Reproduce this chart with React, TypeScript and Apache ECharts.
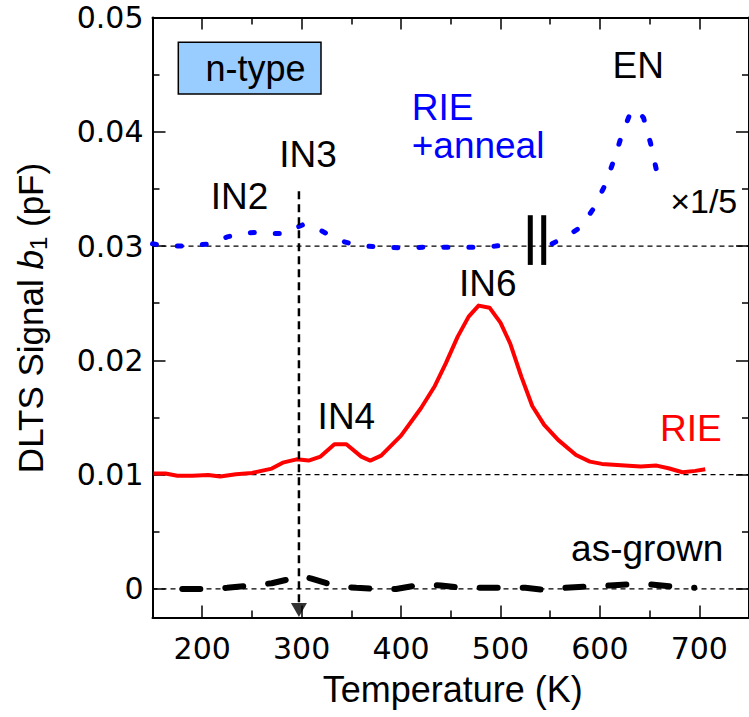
import React, { useEffect, useRef } from 'react';
import * as echarts from 'echarts';

// ---- axis ticks ----
const X_MAJOR = [200, 300, 400, 500, 600, 700];
const X_MINOR = [250, 350, 450, 550, 650];
const Y_MAJOR = [0, 0.01, 0.02, 0.03, 0.04, 0.05];
const Y_MINOR = [0.005, 0.015, 0.025, 0.035, 0.045];
const REF_LEVELS = [0, 0.01, 0.03];

// ---- RIE (red) ----
const RIE_T = [151, 163, 175, 190, 206, 218, 234, 250, 270, 281, 295, 307, 319, 333, 345, 360, 369, 380, 400, 420, 434, 445, 457, 468, 478, 489, 500, 510, 521, 532, 544, 558, 576, 590, 602, 625, 641, 657, 669, 683, 696, 706];
const RIE_V = [0.0101, 0.0101, 0.0099, 0.0099, 0.00997, 0.00983, 0.01003, 0.01015, 0.01053, 0.01105, 0.01134, 0.01123, 0.01158, 0.01266, 0.01266, 0.01158, 0.01123, 0.01166, 0.01341, 0.01581, 0.01776, 0.01974, 0.02208, 0.02383, 0.02479, 0.02461, 0.0233, 0.02143, 0.01858, 0.01601, 0.01435, 0.01304, 0.01172, 0.01114, 0.01094, 0.01079, 0.01071, 0.01079, 0.01056, 0.01021, 0.01033, 0.01047];

// ---- RIE + anneal (blue), low-T part ----
const ANL_T = [150, 165, 180, 195, 210, 225, 240, 255, 270, 282, 292, 302, 312, 325, 338, 350, 365, 380, 400, 425, 450, 475, 495, 508];
const ANL_V = [0.0302, 0.0300, 0.0300, 0.0301, 0.0302, 0.0308, 0.0311, 0.0312, 0.0311, 0.0311, 0.0315, 0.0319, 0.0317, 0.0311, 0.0305, 0.0302, 0.0300, 0.0299, 0.02985, 0.0299, 0.0299, 0.0299, 0.0300, 0.0301];
// ---- RIE + anneal (blue), EN part (x1/5) ----
const EN_T = [552, 565, 580, 593, 605, 614, 622, 630, 637, 644, 651, 658];
const EN_V = [0.0302, 0.0308, 0.0316, 0.0332, 0.0353, 0.0375, 0.0397, 0.0415, 0.0420, 0.0412, 0.0390, 0.0362];

// ---- as-grown (black) ----
const GROWN_T = [180, 205, 225, 250, 270, 285, 297, 310, 325, 340, 355, 375, 395, 415, 425, 440, 460, 480, 500, 525, 545, 565, 585, 610, 630, 650, 675, 695];
const GROWN_V = [0, 0, 0.0001, 0.0003, 0.0005, 0.0008, 0.0012, 0.0009, 0.0005, 0.0002, 0.0001, 0, 0, 0.0003, 0.0004, 0.0003, 0.0001, 0.0001, 0.0001, 0.0001, -0.0001, 0.0001, 0.0002, 0.0003, 0.0004, 0.0004, 0.0002, 0.0001];

// ---- IN3 marker, break ----
const IN3_T = 297.3;
const IN3_RANGE = [0.0348, -0.0014];
const ARROW_Y = -0.00184;
const BREAK_T = [530, 543.5];
const BREAK_Y = [0.02835, 0.0327];

const FONT = '"Liberation Sans", Arial, sans-serif';
const TICK_FONT = '"DejaVu Sans", sans-serif';

const zip = (a: number[], b: number[]) => a.map((v, i) => [v, b[i]]);

function xAxis(pos: string, ticks: number[], len: number, showLine: boolean, labels: boolean) {
  return {
    type: 'value', position: pos, min: 150, max: 750,
    axisLine: { show: showLine, onZero: false, lineStyle: { color: '#000', width: 2 } },
    axisTick: { show: true, inside: true, length: len, customValues: ticks, lineStyle: { color: '#000', width: 1.5 } },
    axisLabel: labels
      ? { show: true, customValues: X_MAJOR, fontSize: 30, fontFamily: TICK_FONT, color: '#000', margin: 16 }
      : { show: false },
    splitLine: { show: false },
  };
}
function yAxis(pos: string, ticks: number[], len: number, showLine: boolean, labels: boolean) {
  return {
    type: 'value', position: pos, min: -0.0025, max: 0.05,
    axisLine: { show: showLine, onZero: false, lineStyle: { color: '#000', width: 2 } },
    axisTick: { show: true, inside: true, length: len, customValues: ticks, lineStyle: { color: '#000', width: 1.5 } },
    axisLabel: labels
      ? {
          show: true, customValues: Y_MAJOR, fontSize: 30, fontFamily: TICK_FONT, color: '#000', margin: 9,
          formatter: (v: number) => (Math.abs(v) < 1e-9 ? '0' : v.toFixed(2)),
        }
      : { show: false },
    splitLine: { show: false },
  };
}

function txt(text: string, x: number, y: number, fs: number, color = '#000', align = 'center') {
  return {
    type: 'text', x, y, z: 100,
    style: { text, fontSize: fs, fontFamily: FONT, fill: color, textAlign: align, textVerticalAlign: 'middle' },
  };
}

export default function App() {
  const ref = useRef<HTMLDivElement>(null);
  useEffect(() => {
    if (!ref.current) return;
    const chart = echarts.init(ref.current, null, { renderer: 'svg' });
    const refLines = REF_LEVELS.map((lv) => ({
      type: 'line', data: [[150, lv], [750, lv]], symbol: 'none', silent: true,
      lineStyle: { color: '#000', width: 1.3, type: [5, 4] }, z: 1,
    }));
    chart.setOption({
      animation: false,
      backgroundColor: '#fff',
      grid: { left: 152.5, top: 17.5, width: 600, height: 600, containLabel: false },
      xAxis: [
        xAxis('bottom', X_MAJOR, 12, true, true),
        xAxis('bottom', X_MINOR, 7, false, false),
        xAxis('top', X_MAJOR, 12, true, false),
        xAxis('top', X_MINOR, 7, false, false),
      ],
      yAxis: [
        yAxis('left', Y_MAJOR, 13, true, true),
        yAxis('left', Y_MINOR, 7, false, false),
        yAxis('right', Y_MAJOR, 13, true, false),
        yAxis('right', Y_MINOR, 7, false, false),
      ],
      series: [
        ...refLines,
        {
          type: 'line', name: 'as-grown', data: zip(GROWN_T, GROWN_V), symbol: 'none', z: 3,
          lineStyle: { color: '#000', width: 6, type: [18, 25], cap: 'round' },
        },
        {
          type: 'line', name: 'RIE', data: zip(RIE_T, RIE_V), symbol: 'none', z: 3,
          lineStyle: { color: '#ff0000', width: 4, join: 'round' },
        },
        {
          type: 'line', name: 'RIE+anneal', data: zip(ANL_T, ANL_V), symbol: 'none', z: 3,
          lineStyle: { color: '#0000ff', width: 5, type: [4, 21], cap: 'round' },
        },
        {
          type: 'line', name: 'RIE+anneal x1/5', data: zip(EN_T, EN_V), symbol: 'none', z: 3,
          lineStyle: { color: '#0000ff', width: 5, type: [4, 21], cap: 'round' },
        },
        {
          type: 'line', data: [[IN3_T, IN3_RANGE[0]], [IN3_T, IN3_RANGE[1]]], symbol: 'none', z: 4,
          lineStyle: { color: '#000', width: 2.5, type: [8, 5] },
        },
        {
          type: 'scatter', data: [[IN3_T, ARROW_Y]], symbol: 'triangle', symbolRotate: 180,
          symbolSize: [16, 14], itemStyle: { color: '#000' }, z: 5,
        },
        ...BREAK_T.map((t) => ({
          type: 'line', data: [[t, BREAK_Y[0]], [t, BREAK_Y[1]]], symbol: 'none', z: 5,
          lineStyle: { color: '#000', width: 5 },
        })),
      ],
      graphic: [
        {
          type: 'rect', z: 90, shape: { x: 178.3, y: 42.3, width: 142.7, height: 51.7 },
          style: { fill: '#99ccff', stroke: '#000', lineWidth: 1.5 },
        },
        txt('n-type', 255.5, 68.8, 36),
        txt('RIE', 411.7, 107.5, 37, '#0000ff', 'left'),
        txt('+anneal', 411.7, 145.1, 37, '#0000ff', 'left'),
        txt('IN3', 308, 154, 37),
        txt('IN2', 239.5, 196.8, 37),
        txt('EN', 638.3, 65.1, 37),
        txt('×1/5', 703.7, 201, 34),
        txt('IN6', 487.7, 283.5, 37),
        txt('IN4', 346.4, 416.1, 37),
        txt('RIE', 690.8, 428.5, 37, '#ff0000'),
        txt('as-grown', 723.3, 548.5, 37, '#000', 'right'),
        txt('Temperature (K)', 452.7, 689.6, 36),
        {
          type: 'text', x: 30, y: 318, rotation: Math.PI / 2, z: 100,
          style: {
            text: '{n|DLTS Signal }{i|b}{s|1}{n| (pF)}',
            fontSize: 35, fontFamily: FONT, fill: '#000', textAlign: 'center', textVerticalAlign: 'middle',
            rich: {
              n: { fontSize: 35, fontFamily: FONT, fill: '#000', lineHeight: 40 },
              i: { fontSize: 35, fontFamily: FONT, fill: '#000', fontStyle: 'italic', lineHeight: 40 },
              s: { fontSize: 24, fontFamily: FONT, fill: '#000', lineHeight: 40, verticalAlign: 'bottom' },
            },
          },
        },
      ],
    });
    return () => chart.dispose();
  }, []);
  return <div ref={ref} style={{ position: 'absolute', left: 0, top: 0, width: 749, height: 717 }} />;
}
